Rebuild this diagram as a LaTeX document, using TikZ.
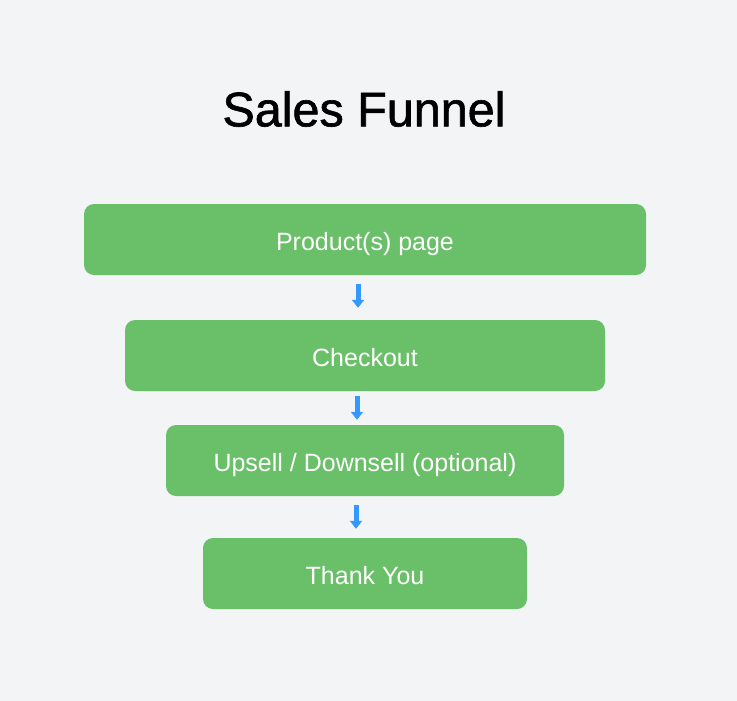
\documentclass[tikz,border=0pt]{standalone}
\usepackage{fontspec}
\setmainfont{Liberation Sans}
\newfontfamily\titlefont[FakeBold=1.3]{Liberation Sans}
\usetikzlibrary{arrows.meta}
\definecolor{pagebg}{HTML}{F3F4F6}
\definecolor{stagegreen}{HTML}{6ABF69}
\definecolor{flowblue}{HTML}{3399FF}
\tikzset{
  stage/.style={fill=stagegreen, rounded corners=10pt, minimum height=71pt,
    text=white, font=\fontsize{25}{29}\selectfont, inner sep=0pt,
    text height=24pt, text depth=3pt},
  flow/.style={draw=flowblue, line width=5pt,
    -{Triangle[width=12pt,length=8pt]}}
}
\begin{document}
\begin{tikzpicture}[x=1pt,y=-1pt]
      \fill[pagebg] (0,0) rectangle (737,701);
      \useasboundingbox (0,0) rectangle (737,701);
      \draw
        (364,109) node (title){\titlefont\fontsize{48.5}{58}\selectfont Sales Funnel}
        (365,239.5) node[stage, minimum width=562pt] (product){Product(s) page}
        (365,355.5) node[stage, minimum width=480pt] (checkout){Checkout}
        (365,460.5) node[stage, minimum width=398pt] (upsell){Upsell / Downsell (optional)}
        (365,573.5) node[stage, minimum width=324pt] (thanks){Thank You};
      \begin{scope}[flow]
        \draw[shorten <=9pt, shorten >=12pt] ([xshift=-7pt]product.south) to ([xshift=-7pt]checkout.north);
        \draw[shorten <=5pt, shorten >=5pt] ([xshift=-8pt]checkout.south) to ([xshift=-8pt]upsell.north);
        \draw[shorten <=9pt, shorten >=9pt] ([xshift=-9pt]upsell.south) to ([xshift=-9pt]thanks.north);
      \end{scope}
    \end{tikzpicture}
\end{document}
